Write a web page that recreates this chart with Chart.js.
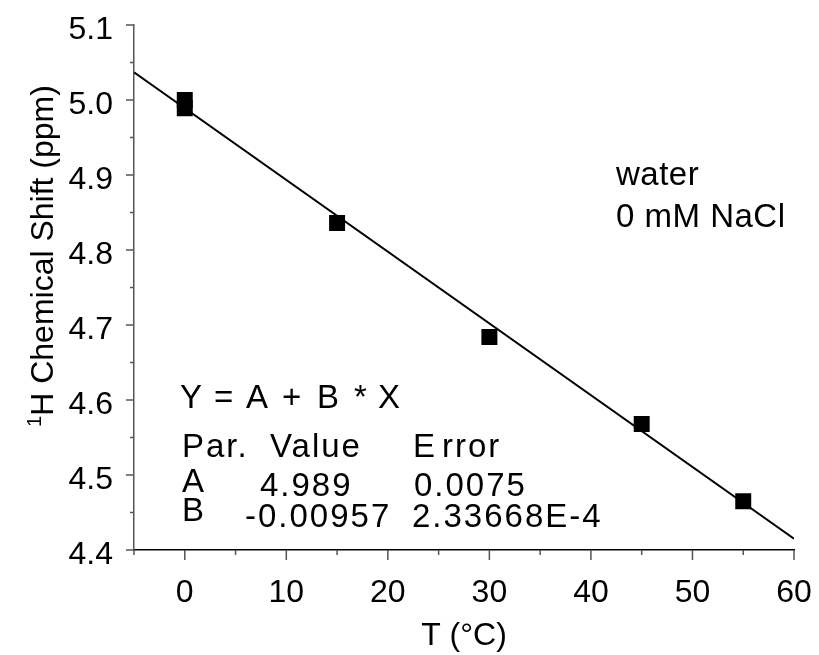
<!DOCTYPE html>
<html>
<head>
<meta charset="utf-8">
<script src="https://cdn.jsdelivr.net/npm/chart.js@4.4.0/dist/chart.umd.min.js"></script>
<style>
  html, body { margin: 0; padding: 0; background: #fff; }
  #wrap { width: 819px; height: 655px; }
</style>
</head>
<body>
<div id="wrap"><canvas id="c" width="819" height="655"></canvas></div>
<script>
// ---- data ----
const tempC     = [0, 0, 15, 30, 45, 55];
const shiftPpm  = [5.000, 4.989, 4.836, 4.684, 4.568, 4.465];
const fitX      = [-5, 60];
const fitY      = [5.037, 4.415];
const xTicks    = [0, 10, 20, 30, 40, 50, 60];
const xMinor    = [-5, 5, 15, 25, 35, 45, 55];
const yTicks    = [4.4, 4.5, 4.6, 4.7, 4.8, 4.9, 5.0, 5.1];
const yMinor    = [4.45, 4.55, 4.65, 4.75, 4.85, 4.95, 5.05];
const xTitle    = 'T (°C)';
const yTitle    = ['1', 'H Chemical Shift (ppm)'];
const legendLines = ['water', '0 mM NaCl'];
const fitText = [
  [['Y', 180], ['=', 214], ['A', 246], ['+', 282], ['B', 317], ['*', 354], ['X', 378]],
];

const FONT = '"Liberation Sans", Arial, sans-serif';
Chart.defaults.font.family = FONT;
Chart.defaults.color = '#000';

const overlay = {
  id: 'overlay',
  afterDraw(chart) {
    const ctx = chart.ctx;
    const xs = chart.scales.x, ys = chart.scales.y;
    const area = chart.chartArea;
    ctx.save();
    // ticks
    ctx.strokeStyle = '#555';
    ctx.lineWidth = 1.5;
    ctx.beginPath();
    xTicks.forEach(v => { const p = xs.getPixelForValue(v); ctx.moveTo(p, area.bottom); ctx.lineTo(p, area.bottom + 10); });
    xMinor.forEach(v => { const p = xs.getPixelForValue(v); ctx.moveTo(p, area.bottom); ctx.lineTo(p, area.bottom + 5); });
    yTicks.forEach(v => { const p = ys.getPixelForValue(v); ctx.moveTo(area.left, p); ctx.lineTo(area.left - 8, p); });
    yMinor.forEach(v => { const p = ys.getPixelForValue(v); ctx.moveTo(area.left, p); ctx.lineTo(area.left - 4, p); });
    ctx.stroke();

    ctx.fillStyle = '#000';
    ctx.textBaseline = 'alphabetic';
    // x title
    ctx.font = '32px ' + FONT;
    ctx.textAlign = 'center';
    ctx.fillText(xTitle, 464, 645);
    // y title (rotated)
    ctx.save();
    ctx.translate(53, 256);
    ctx.rotate(-Math.PI / 2);
    ctx.font = '32px ' + FONT;
    const w2 = ctx.measureText(yTitle[1]).width;
    ctx.font = '20px ' + FONT;
    const w1 = ctx.measureText(yTitle[0]).width;
    const start = -(w1 + w2) / 2;
    ctx.textAlign = 'left';
    ctx.fillText(yTitle[0], start, -12);
    ctx.font = '32px ' + FONT;
    ctx.fillText(yTitle[1], start + w1, 0);
    ctx.restore();

    // legend text
    ctx.textAlign = 'left';
    ctx.font = '33px ' + FONT;
    try { ctx.letterSpacing = '0.5px'; } catch (e) {}
    ctx.fillText(legendLines[0], 616, 185);
    ctx.fillText(legendLines[1], 616, 227);

    // fit equation
    try { ctx.letterSpacing = '0px'; } catch (e) {}
    fitText[0].forEach(([t, x]) => ctx.fillText(t, x, 408));
    try { ctx.letterSpacing = '2px'; } catch (e) {}
    ctx.fillText('Par.', 182, 457);
    ctx.fillText('Value', 270, 457);
    ctx.fillText('E', 413, 457);
    ctx.fillText('rror', 442, 457);
    ctx.fillText('A', 182, 492);
    ctx.fillText('4.989', 260, 496);
    ctx.fillText('0.0075', 414, 496);
    ctx.fillText('B', 182, 521);
    ctx.fillText('-0.00957', 245, 527);
    ctx.fillText('2.33668E-4', 412, 527);
    ctx.restore();
  }
};

new Chart(document.getElementById('c'), {
  type: 'scatter',
  data: {
    datasets: [
      {
        type: 'line',
        data: fitX.map((x, i) => ({ x, y: fitY[i] })),
        borderColor: '#000',
        borderWidth: 2,
        pointRadius: 0,
        fill: false,
        order: 2
      },
      {
        data: tempC.map((x, i) => ({ x, y: shiftPpm[i] })),
        pointStyle: 'rect',
        pointRadius: 11.3,
        backgroundColor: '#000',
        borderColor: '#000',
        borderWidth: 0,
        order: 1
      }
    ]
  },
  options: {
    responsive: false,
    animation: false,
    devicePixelRatio: 1,
    layout: { padding: { top: 25, right: 25, left: 0, bottom: 0 } },
    plugins: { legend: { display: false }, tooltip: { enabled: false } },
    scales: {
      x: {
        type: 'linear',
        min: -5, max: 60,
        afterFit(s) { s.height = 105; s.paddingLeft = 0; s.paddingRight = 0; s.paddingTop = 0; s.paddingBottom = 0; },
        afterBuildTicks(s) { s.ticks = xTicks.map(v => ({ value: v })); },
        grid: { display: false, drawTicks: false },
        border: { display: true, color: '#000', width: 1.5 },
        ticks: { font: { size: 32 }, padding: 24, color: '#000', maxRotation: 0, autoSkip: false }
      },
      y: {
        type: 'linear',
        min: 4.4, max: 5.1,
        afterFit(s) { s.width = 134; s.paddingLeft = 0; s.paddingRight = 0; s.paddingTop = 0; s.paddingBottom = 0; },
        afterBuildTicks(s) { s.ticks = yTicks.map(v => ({ value: v })); },
        grid: { display: false, drawTicks: false },
        border: { display: true, color: '#555', width: 1.5 },
        ticks: { font: { size: 32 }, padding: 21, labelOffset: 5, color: '#000', autoSkip: false,
                 callback: v => Number(v).toFixed(1) }
      }
    }
  },
  plugins: [overlay]
});
</script>
</body>
</html>
